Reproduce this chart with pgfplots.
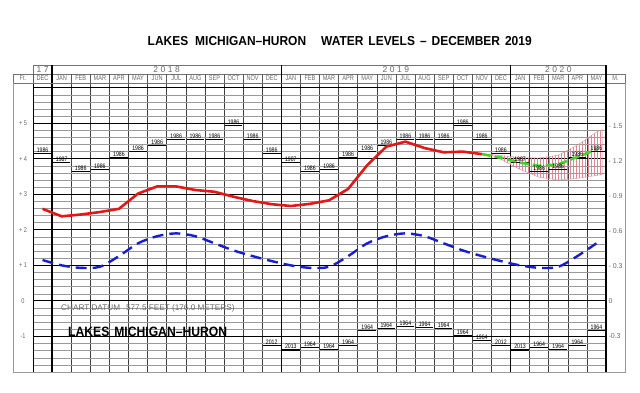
\documentclass[border=0pt]{standalone}
\usepackage{pgfplots}
\pgfplotsset{compat=1.18}
\usepackage{pgfplotstable}
\usetikzlibrary{patterns}
\usepackage{fontspec}
\setmainfont{Liberation Sans}
\newfontfamily\labfont[FakeStretch=0.8]{Liberation Sans}
\newfontfamily\titlefont[FakeStretch=0.92]{Liberation Sans}
\newfontfamily\lakefont[FakeStretch=0.9]{Liberation Sans}
\definecolor{myred}{RGB}{228,22,22}
\definecolor{myblue}{RGB}{22,30,205}
\definecolor{mygreen}{RGB}{70,210,40}
\definecolor{hatch}{RGB}{222,135,150}
\definecolor{lab}{RGB}{105,105,105}

\pgfplotstableread{
x y lab
0 4.15 1986
1 3.89 1987
2 3.64 1986
3 3.69 1986
4 4.02 1986
5 4.20 1986
6 4.36 1986
7 4.55 1986
8 4.55 1986
9 4.53 1986
10 4.93 1986
11 4.53 1986
12 4.15 1986
13 3.89 1987
14 3.64 1986
15 3.69 1986
16 4.02 1986
17 4.20 1986
18 4.36 1986
19 4.55 1986
20 4.55 1986
21 4.53 1986
22 4.93 1986
23 4.53 1986
24 4.15 1986
25 3.89 1987
26 3.64 1986
27 3.69 1986
28 4.02 1986
29 4.20 1986
}\highs

\pgfplotstableread{
x y lab
12 -1.26 2012
13 -1.38 2013
14 -1.31 1964
15 -1.36 1964
16 -1.26 1964
17 -0.84 1964
18 -0.77 1964
19 -0.72 1964
20 -0.75 1964
21 -0.77 1964
22 -0.98 1964
23 -1.12 1964
24 -1.26 2012
25 -1.38 2013
26 -1.31 1964
27 -1.36 1964
28 -1.26 1964
29 -0.84 1964
}\lows

\begin{document}
\begin{tikzpicture}
\useasboundingbox (0pt,0pt) rectangle (640pt,392pt);
\begin{axis}[
  at={(33pt,20pt)}, anchor=south west,
  width=573pt, height=289pt, scale only axis,
  xmin=-0.5, xmax=29.5, ymin=-2, ymax=6.13,
  clip=false,
  xtick={0,...,29},
  xticklabels={DEC,JAN,FEB,MAR,APR,MAY,JUN,JUL,AUG,SEP,OCT,NOV,DEC,JAN,FEB,MAR,APR,MAY,JUN,JUL,AUG,SEP,OCT,NOV,DEC,JAN,FEB,MAR,APR,MAY},
  xticklabel pos=upper,
  xticklabel style={anchor=center, yshift=4.5pt, font=\labfont\fontsize{7}{8}\selectfont, text=lab},
  minor xtick={0.5,1.5,...,28.5},
  xminorgrids=true,
  ytick={-2,-1,0,1,2,3,4,5,6},
  yticklabels={,-1,0,+ 1,+ 2,+ 3,+ 4,+ 5,},
  yticklabel style={anchor=center, xshift=-10pt, font=\labfont\fontsize{7}{8}\selectfont, text=lab},
  minor y tick num=4,
  ymajorgrids=true, yminorgrids=true,
  major grid style={black, line width=0.9pt},
  minor grid style={black!40, line width=0.45pt},
  minor x grid style={black!75, line width=0.5pt},
  tick style={draw=none},
  major tick length=0pt, minor tick length=0pt,
  axis line style={black, line width=0.8pt},
  extra x ticks={0.5,12.5,24.5},
  extra x tick labels={},
  extra x tick style={grid=major, major grid style={black, line width=1.3pt}},
]
% forecast range (hatched)
\addplot[draw=hatch, line width=0.4pt, pattern=vertical lines, pattern color=hatch]
  coordinates {(23.4,4.12)(24,4.09)(25,4.03)(26,4.02)(27,4.10)(28,4.38)(29,4.75)(29.3,4.82)
               (29.3,3.56)(29,3.53)(28,3.45)(27,3.40)(26,3.48)(25,3.70)(24,3.98)(23.4,4.12)} -- cycle;
% long-term average
\addplot[myblue, line width=2.4pt, dash pattern=on 11pt off 6pt, smooth, tension=0.5]
  coordinates {(0,1.15)(1,1.00)(2,0.93)(3,0.96)(4,1.26)(5,1.62)(6,1.82)(7,1.90)(8,1.82)(9,1.62)(10,1.42)(11,1.26)
               (12,1.12)(13,1.00)(14,0.93)(15,0.96)(16,1.26)(17,1.62)(18,1.82)(19,1.90)(20,1.82)(21,1.62)(22,1.42)(23,1.26)
               (24,1.12)(25,1.00)(26,0.93)(27,0.96)(28,1.26)(29,1.62)};
% record highs
\addplot[only marks, mark=none, point meta=explicit symbolic,
  nodes near coords,
  nodes near coords style={font=\labfont\fontsize{6.5}{7}\selectfont, anchor=south, inner sep=0.9pt, text=black},
  error bars/.cd, x dir=both, x fixed=0.46, error mark=none,
  error bar style={black, line width=1.1pt}]
  table[x=x, y=y, meta=lab] {\highs};
% record lows
\addplot[only marks, mark=none, point meta=explicit symbolic,
  nodes near coords,
  nodes near coords style={font=\labfont\fontsize{6.5}{7}\selectfont, anchor=south, inner sep=0.9pt, text=black},
  error bars/.cd, x dir=both, x fixed=0.46, error mark=none,
  error bar style={black, line width=1.1pt}]
  table[x=x, y=y, meta=lab] {\lows};
% recorded levels
\addplot[myred, line width=2.6pt, line join=round]
  coordinates {(0,2.59)(1,2.38)(2,2.43)(3,2.50)(4,2.59)(5,3.02)(6,3.22)(7,3.22)(8,3.12)(9,3.07)(10,2.93)(11,2.81)
               (12,2.72)(13,2.67)(14,2.73)(15,2.83)(16,3.15)(17,3.82)(18,4.34)(19,4.48)(20,4.30)(21,4.18)(22,4.20)(23,4.13)};
% forecast
\addplot[mygreen, line width=2.6pt, dash pattern=on 9pt off 4pt]
  coordinates {(23,4.13)(24,4.03)(25,3.89)(26,3.80)(27,3.84)(28,4.05)(29,4.26)};
\end{axis}
\begin{axis}[
  at={(33pt,20pt)}, anchor=south west,
  width=573pt, height=289pt, scale only axis,
  xmin=-0.5, xmax=29.5, ymin=-0.6096, ymax=1.86842,
  axis x line=none, axis y line*=right,
  axis line style={draw=none},
  tick style={draw=none}, major tick length=0pt,
  ytick={-0.3,0,0.3,0.6,0.9,1.2,1.5},
  yticklabels={-0.3,0,- 0.3,- 0.6,- 0.9,- 1.2,- 1.5},
  yticklabel style={anchor=west, xshift=-1pt, font=\fontsize{7}{8}\selectfont, text=lab},
]
\addplot[draw=none] coordinates {(0,0)};
\end{axis}
% header frame
\draw[black!55, line width=0.5pt] (13pt,309pt) rectangle (625pt,318pt);
\draw[black!55, line width=0.5pt] (33pt,318pt) rectangle (606pt,327pt);
\foreach \k in {0,...,30} \draw[black!65, line width=0.5pt] ({33pt+19.1pt*\k},309pt) -- ({33pt+19.1pt*\k},318pt);
\foreach \k in {1,13,25} \draw[black, line width=1.3pt] ({33pt+19.1pt*\k},309pt) -- ({33pt+19.1pt*\k},327pt);
\draw[black, line width=1.3pt] (606pt,20pt) -- (606pt,327pt);
\draw[black!40, line width=0.5pt] (13pt,309pt) -- (13pt,20pt) -- (625pt,20pt) -- (625pt,309pt);
% header text
\node[font=\labfont\fontsize{7}{8}\selectfont, text=lab] at (23pt,313.5pt) {Ft.};
\node[font=\labfont\fontsize{7}{8}\selectfont, text=lab] at (615.5pt,313.5pt) {M.};
\node[font=\fontsize{8.5}{9}\selectfont\addfontfeatures{LetterSpace=30}, text=lab] at (42.6pt,322.5pt) {17};
\node[font=\fontsize{8.5}{9}\selectfont\addfontfeatures{LetterSpace=30}, text=lab] at (166.7pt,322.5pt) {2018};
\node[font=\fontsize{8.5}{9}\selectfont\addfontfeatures{LetterSpace=30}, text=lab] at (395.9pt,322.5pt) {2019};
\node[font=\fontsize{8.5}{9}\selectfont\addfontfeatures{LetterSpace=30}, text=lab] at (558.3pt,322.5pt) {2020};
% titles
\node[anchor=base west, inner sep=0pt, font=\titlefont\bfseries\fontsize{13}{14}\selectfont]
  at (147.5pt,346pt) {LAKES\hspace{7pt}MICHIGAN\textendash HURON\hspace{15pt}WATER\hspace{5pt}LEVELS\hspace{5pt}\textendash\hspace{5pt}DECEMBER\hspace{5pt}2019};
\node[anchor=base west, inner sep=0pt, font=\fontsize{8.2}{9}\selectfont, text=lab]
  at (61pt,81.3pt) {CHART DATUM\hspace{6pt}577.5 FEET (176.0 METERS)};
\node[anchor=base west, inner sep=0pt, font=\lakefont\bfseries\fontsize{13.5}{14}\selectfont]
  at (68pt,55.3pt) {LAKES\hspace{5pt}MICHIGAN\textendash HURON};
\end{tikzpicture}
\end{document}
